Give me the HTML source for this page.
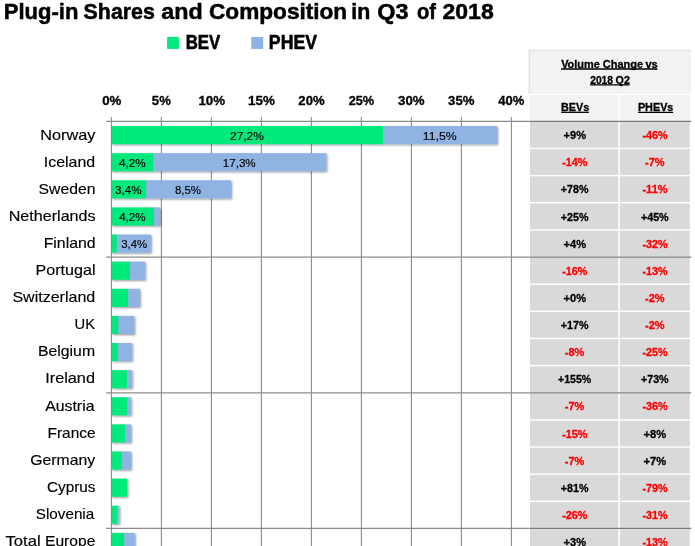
<!DOCTYPE html>
<html lang="en">
<head>
<meta charset="utf-8">
<title>Plug-in Shares and Composition in Q3 of 2018</title>
<style>
html,body{margin:0;padding:0;background:#fff;}
body{width:695px;height:546px;overflow:hidden;font-family:"Liberation Sans",Arial,sans-serif;}
svg{display:block;}
text{font-family:"Liberation Sans",Arial,sans-serif;fill:#000;stroke:#000;stroke-width:0.3px;}
.b{font-weight:bold;}
.r{fill:#ff0000;stroke:#ff0000;}
</style>
</head>
<body>
<svg width="695" height="546" viewBox="0 0 695 546">
<defs>
<filter id="sh" x="-5%" y="-20%" width="110%" height="150%">
<feGaussianBlur in="SourceAlpha" stdDeviation="0.9"/>
<feOffset dx="0.6" dy="1.1" result="o"/>
<feComponentTransfer><feFuncA type="linear" slope="0.45"/></feComponentTransfer>
<feMerge><feMergeNode/><feMergeNode in="SourceGraphic"/></feMerge>
</filter>
</defs>
<rect width="695" height="546" fill="#ffffff"/>

<rect x="167.1" y="36.9" width="11.8" height="12" fill="#00e97d"/>
<rect x="251.3" y="37" width="11.9" height="11.95" fill="#8fb3e3"/>
<rect x="528.7" y="49.7" width="162.30" height="44.1" fill="#f2f2f2"/>
<rect x="528.7" y="49.7" width="162.30" height="1" fill="#e0e0e0"/>
<rect x="528.7" y="49.7" width="1" height="44.1" fill="#dcdcdc"/>
<rect x="529.7" y="94.9" width="88.60" height="25.9" fill="#f3f3f3"/>
<rect x="619.9" y="94.9" width="70.30" height="25.9" fill="#f3f3f3"/>
<rect x="530.0" y="122.00" width="88.30" height="25.75" fill="#d9d9d9"/>
<rect x="619.9" y="122.00" width="69.90" height="25.75" fill="#d9d9d9"/>
<rect x="530.0" y="149.14" width="88.30" height="25.75" fill="#d9d9d9"/>
<rect x="619.9" y="149.14" width="69.90" height="25.75" fill="#d9d9d9"/>
<rect x="530.0" y="176.29" width="88.30" height="25.75" fill="#d9d9d9"/>
<rect x="619.9" y="176.29" width="69.90" height="25.75" fill="#d9d9d9"/>
<rect x="530.0" y="203.44" width="88.30" height="25.75" fill="#d9d9d9"/>
<rect x="619.9" y="203.44" width="69.90" height="25.75" fill="#d9d9d9"/>
<rect x="530.0" y="230.58" width="88.30" height="25.75" fill="#d9d9d9"/>
<rect x="619.9" y="230.58" width="69.90" height="25.75" fill="#d9d9d9"/>
<rect x="530.0" y="257.72" width="88.30" height="25.75" fill="#d9d9d9"/>
<rect x="619.9" y="257.72" width="69.90" height="25.75" fill="#d9d9d9"/>
<rect x="530.0" y="284.87" width="88.30" height="25.75" fill="#d9d9d9"/>
<rect x="619.9" y="284.87" width="69.90" height="25.75" fill="#d9d9d9"/>
<rect x="530.0" y="312.01" width="88.30" height="25.75" fill="#d9d9d9"/>
<rect x="619.9" y="312.01" width="69.90" height="25.75" fill="#d9d9d9"/>
<rect x="530.0" y="339.16" width="88.30" height="25.75" fill="#d9d9d9"/>
<rect x="619.9" y="339.16" width="69.90" height="25.75" fill="#d9d9d9"/>
<rect x="530.0" y="366.31" width="88.30" height="25.75" fill="#d9d9d9"/>
<rect x="619.9" y="366.31" width="69.90" height="25.75" fill="#d9d9d9"/>
<rect x="530.0" y="393.45" width="88.30" height="25.75" fill="#d9d9d9"/>
<rect x="619.9" y="393.45" width="69.90" height="25.75" fill="#d9d9d9"/>
<rect x="530.0" y="420.59" width="88.30" height="25.75" fill="#d9d9d9"/>
<rect x="619.9" y="420.59" width="69.90" height="25.75" fill="#d9d9d9"/>
<rect x="530.0" y="447.74" width="88.30" height="25.75" fill="#d9d9d9"/>
<rect x="619.9" y="447.74" width="69.90" height="25.75" fill="#d9d9d9"/>
<rect x="530.0" y="474.88" width="88.30" height="25.75" fill="#d9d9d9"/>
<rect x="619.9" y="474.88" width="69.90" height="25.75" fill="#d9d9d9"/>
<rect x="530.0" y="502.03" width="88.30" height="25.75" fill="#d9d9d9"/>
<rect x="619.9" y="502.03" width="69.90" height="25.75" fill="#d9d9d9"/>
<rect x="530.0" y="529.18" width="88.30" height="25.74" fill="#d9d9d9"/>
<rect x="619.9" y="529.18" width="69.90" height="25.74" fill="#d9d9d9"/>
<g stroke="#8c8c8c" stroke-width="1.1" fill="none">
<line x1="161.40" y1="116.9" x2="161.40" y2="546"/>
<line x1="211.40" y1="116.9" x2="211.40" y2="546"/>
<line x1="261.40" y1="116.9" x2="261.40" y2="546"/>
<line x1="311.40" y1="116.9" x2="311.40" y2="546"/>
<line x1="361.40" y1="116.9" x2="361.40" y2="546"/>
<line x1="411.40" y1="116.9" x2="411.40" y2="546"/>
<line x1="461.40" y1="116.9" x2="461.40" y2="546"/>
<line x1="511.40" y1="116.9" x2="511.40" y2="546"/>
</g>
<g stroke="#8c8c8c" stroke-width="1.2" fill="none">
<line x1="106.2" y1="121.30" x2="529.7" y2="121.30"/>
<line x1="106.2" y1="257.10" x2="529.7" y2="257.10"/>
<line x1="106.2" y1="392.85" x2="529.7" y2="392.85"/>
<line x1="106.2" y1="528.45" x2="529.7" y2="528.45"/>
</g>
<g stroke="#7a7a7a" stroke-width="1.3" fill="none">
<line x1="529.7" y1="121.30" x2="691.2" y2="121.30"/>
<line x1="529.7" y1="257.10" x2="691.2" y2="257.10"/>
<line x1="529.7" y1="392.85" x2="691.2" y2="392.85"/>
<line x1="529.7" y1="528.45" x2="691.2" y2="528.45"/>
</g>
<g filter="url(#sh)">
<rect x="382.40" y="126.05" width="114.50" height="18.1" fill="#8fb3e3"/>
<rect x="111.40" y="126.05" width="271.60" height="18.1" fill="#00e97d"/>
<rect x="152.60" y="153.17" width="173.70" height="18.1" fill="#8fb3e3"/>
<rect x="111.40" y="153.17" width="41.80" height="18.1" fill="#00e97d"/>
<rect x="145.50" y="180.29" width="85.50" height="18.1" fill="#8fb3e3"/>
<rect x="111.40" y="180.29" width="34.70" height="18.1" fill="#00e97d"/>
<rect x="153.40" y="207.41" width="6.60" height="18.1" fill="#8fb3e3"/>
<rect x="111.40" y="207.41" width="42.60" height="18.1" fill="#00e97d"/>
<rect x="116.20" y="234.53" width="34.60" height="18.1" fill="#8fb3e3"/>
<rect x="111.40" y="234.53" width="5.40" height="18.1" fill="#00e97d"/>
<rect x="129.30" y="261.65" width="15.90" height="18.1" fill="#8fb3e3"/>
<rect x="111.40" y="261.65" width="18.50" height="18.1" fill="#00e97d"/>
<rect x="127.50" y="288.77" width="12.30" height="18.1" fill="#8fb3e3"/>
<rect x="111.40" y="288.77" width="16.70" height="18.1" fill="#00e97d"/>
<rect x="117.60" y="315.89" width="16.70" height="18.1" fill="#8fb3e3"/>
<rect x="111.40" y="315.89" width="6.80" height="18.1" fill="#00e97d"/>
<rect x="117.40" y="343.01" width="14.70" height="18.1" fill="#8fb3e3"/>
<rect x="111.40" y="343.01" width="6.60" height="18.1" fill="#00e97d"/>
<rect x="126.30" y="370.13" width="5.80" height="18.1" fill="#8fb3e3"/>
<rect x="111.40" y="370.13" width="15.50" height="18.1" fill="#00e97d"/>
<rect x="126.70" y="397.25" width="4.40" height="18.1" fill="#8fb3e3"/>
<rect x="111.40" y="397.25" width="15.90" height="18.1" fill="#00e97d"/>
<rect x="124.40" y="424.37" width="6.50" height="18.1" fill="#8fb3e3"/>
<rect x="111.40" y="424.37" width="13.60" height="18.1" fill="#00e97d"/>
<rect x="121.00" y="451.49" width="9.90" height="18.1" fill="#8fb3e3"/>
<rect x="111.40" y="451.49" width="10.20" height="18.1" fill="#00e97d"/>
<rect x="111.40" y="478.61" width="15.90" height="18.1" fill="#00e97d"/>
<rect x="116.50" y="505.73" width="2.70" height="18.1" fill="#8fb3e3"/>
<rect x="111.40" y="505.73" width="5.70" height="18.1" fill="#00e97d"/>
<rect x="123.40" y="532.85" width="11.30" height="18.1" fill="#8fb3e3"/>
<rect x="111.40" y="532.85" width="12.60" height="18.1" fill="#00e97d"/>
</g>
<line x1="111.40" y1="116.9" x2="111.40" y2="546" stroke="#8c8c8c" stroke-width="1.1"/>
<g stroke="#000" stroke-width="1.3" fill="none">
<line x1="561" y1="69.0" x2="657.4" y2="69.0"/>
<line x1="590.2" y1="84.9" x2="629.6" y2="84.9"/>
<line x1="561.2" y1="112.3" x2="589" y2="112.3"/>
<line x1="638" y1="112.3" x2="673.1" y2="112.3"/>
</g>
<text class="b" style="stroke-width:0.5px" x="3.69" y="18.60" font-size="22.6" textLength="74.72" lengthAdjust="spacingAndGlyphs">Plug-in</text>
<text class="b" style="stroke-width:0.5px" x="83.62" y="18.60" font-size="22.6" textLength="71.22" lengthAdjust="spacingAndGlyphs">Shares</text>
<text class="b" style="stroke-width:0.5px" x="161.36" y="18.60" font-size="22.6" textLength="41.46" lengthAdjust="spacingAndGlyphs">and</text>
<text class="b" style="stroke-width:0.5px" x="209.01" y="18.60" font-size="22.6" textLength="138.19" lengthAdjust="spacingAndGlyphs">Composition</text>
<text class="b" style="stroke-width:0.5px" x="351.33" y="18.60" font-size="22.6" textLength="18.97" lengthAdjust="spacingAndGlyphs">in</text>
<text class="b" style="stroke-width:0.5px" x="377.34" y="18.60" font-size="22.6" textLength="31.24" lengthAdjust="spacingAndGlyphs">Q3</text>
<text class="b" style="stroke-width:0.5px" x="416.98" y="18.60" font-size="22.6" textLength="18.98" lengthAdjust="spacingAndGlyphs">of</text>
<text class="b" style="stroke-width:0.5px" x="442.45" y="18.60" font-size="22.6" textLength="51.27" lengthAdjust="spacingAndGlyphs">2018</text>
<text class="b" style="stroke-width:0.6px" x="185.67" y="48.85" font-size="19.6" textLength="34.53" lengthAdjust="spacingAndGlyphs">BEV</text>
<text class="b" style="stroke-width:0.6px" x="268.86" y="48.85" font-size="19.6" textLength="48.11" lengthAdjust="spacingAndGlyphs">PHEV</text>
<text class="b" x="102.20" y="105.20" font-size="12.5" textLength="19.21" lengthAdjust="spacingAndGlyphs">0%</text>
<text class="b" x="151.86" y="105.20" font-size="12.5" textLength="18.91" lengthAdjust="spacingAndGlyphs">5%</text>
<text class="b" x="198.44" y="105.20" font-size="12.5" textLength="26.68" lengthAdjust="spacingAndGlyphs">10%</text>
<text class="b" x="248.10" y="105.20" font-size="12.5" textLength="26.79" lengthAdjust="spacingAndGlyphs">15%</text>
<text class="b" x="298.33" y="105.20" font-size="12.5" textLength="26.29" lengthAdjust="spacingAndGlyphs">20%</text>
<text class="b" x="348.67" y="105.20" font-size="12.5" textLength="25.49" lengthAdjust="spacingAndGlyphs">25%</text>
<text class="b" x="398.14" y="105.20" font-size="12.5" textLength="26.54" lengthAdjust="spacingAndGlyphs">30%</text>
<text class="b" x="448.13" y="105.20" font-size="12.5" textLength="26.37" lengthAdjust="spacingAndGlyphs">35%</text>
<text class="b" x="498.24" y="105.20" font-size="12.5" textLength="26.06" lengthAdjust="spacingAndGlyphs">40%</text>
<text style="stroke-width:0.15px" x="40.19" y="139.50" font-size="14.5" textLength="55.16" lengthAdjust="spacingAndGlyphs">Norway</text>
<text style="stroke-width:0.15px" x="230.05" y="139.60" font-size="11.3" textLength="33.83" lengthAdjust="spacingAndGlyphs">27,2%</text>
<text style="stroke-width:0.15px" x="422.82" y="139.60" font-size="11.3" textLength="33.87" lengthAdjust="spacingAndGlyphs">11,5%</text>
<text class="b" x="563.51" y="139.20" font-size="11.5" textLength="22.48" lengthAdjust="spacingAndGlyphs">+9%</text>
<text class="b r" x="642.47" y="139.20" font-size="11.5" textLength="25.15" lengthAdjust="spacingAndGlyphs">-46%</text>
<text style="stroke-width:0.15px" x="43.75" y="166.61" font-size="14.5" textLength="51.36" lengthAdjust="spacingAndGlyphs">Iceland</text>
<text style="stroke-width:0.15px" x="118.91" y="166.71" font-size="11.3" textLength="26.70" lengthAdjust="spacingAndGlyphs">4,2%</text>
<text style="stroke-width:0.15px" x="222.76" y="166.71" font-size="11.3" textLength="32.95" lengthAdjust="spacingAndGlyphs">17,3%</text>
<text class="b r" x="562.21" y="166.32" font-size="11.5" textLength="25.16" lengthAdjust="spacingAndGlyphs">-14%</text>
<text class="b r" x="644.99" y="166.32" font-size="11.5" textLength="19.63" lengthAdjust="spacingAndGlyphs">-7%</text>
<text style="stroke-width:0.15px" x="38.59" y="193.72" font-size="14.5" textLength="56.85" lengthAdjust="spacingAndGlyphs">Sweden</text>
<text style="stroke-width:0.15px" x="115.10" y="193.82" font-size="11.3" textLength="26.56" lengthAdjust="spacingAndGlyphs">3,4%</text>
<text style="stroke-width:0.15px" x="174.91" y="193.82" font-size="11.3" textLength="26.11" lengthAdjust="spacingAndGlyphs">8,5%</text>
<text class="b" x="560.87" y="193.44" font-size="11.5" textLength="27.64" lengthAdjust="spacingAndGlyphs">+78%</text>
<text class="b r" x="642.42" y="193.44" font-size="11.5" textLength="25.21" lengthAdjust="spacingAndGlyphs">-11%</text>
<text style="stroke-width:0.15px" x="8.73" y="220.83" font-size="14.5" textLength="86.85" lengthAdjust="spacingAndGlyphs">Netherlands</text>
<text style="stroke-width:0.15px" x="119.17" y="220.93" font-size="11.3" textLength="26.29" lengthAdjust="spacingAndGlyphs">4,2%</text>
<text class="b" x="560.87" y="220.56" font-size="11.5" textLength="27.64" lengthAdjust="spacingAndGlyphs">+25%</text>
<text class="b" x="640.90" y="220.56" font-size="11.5" textLength="27.79" lengthAdjust="spacingAndGlyphs">+45%</text>
<text style="stroke-width:0.15px" x="43.66" y="247.94" font-size="14.5" textLength="51.88" lengthAdjust="spacingAndGlyphs">Finland</text>
<text style="stroke-width:0.15px" x="121.25" y="248.04" font-size="11.3" textLength="26.00" lengthAdjust="spacingAndGlyphs">3,4%</text>
<text class="b" x="563.51" y="247.68" font-size="11.5" textLength="22.48" lengthAdjust="spacingAndGlyphs">+4%</text>
<text class="b r" x="642.47" y="247.68" font-size="11.5" textLength="25.15" lengthAdjust="spacingAndGlyphs">-32%</text>
<text style="stroke-width:0.15px" x="35.55" y="275.05" font-size="14.5" textLength="59.93" lengthAdjust="spacingAndGlyphs">Portugal</text>
<text class="b r" x="562.21" y="274.80" font-size="11.5" textLength="25.16" lengthAdjust="spacingAndGlyphs">-16%</text>
<text class="b r" x="642.47" y="274.80" font-size="11.5" textLength="25.15" lengthAdjust="spacingAndGlyphs">-13%</text>
<text style="stroke-width:0.15px" x="12.43" y="302.16" font-size="14.5" textLength="82.83" lengthAdjust="spacingAndGlyphs">Switzerland</text>
<text class="b" x="563.51" y="301.92" font-size="11.5" textLength="22.48" lengthAdjust="spacingAndGlyphs">+0%</text>
<text class="b r" x="644.99" y="301.92" font-size="11.5" textLength="19.63" lengthAdjust="spacingAndGlyphs">-2%</text>
<text style="stroke-width:0.15px" x="74.59" y="329.27" font-size="14.5" textLength="20.46" lengthAdjust="spacingAndGlyphs">UK</text>
<text class="b" x="560.87" y="329.04" font-size="11.5" textLength="27.64" lengthAdjust="spacingAndGlyphs">+17%</text>
<text class="b r" x="644.99" y="329.04" font-size="11.5" textLength="19.63" lengthAdjust="spacingAndGlyphs">-2%</text>
<text style="stroke-width:0.15px" x="38.04" y="356.38" font-size="14.5" textLength="57.02" lengthAdjust="spacingAndGlyphs">Belgium</text>
<text class="b r" x="564.77" y="356.16" font-size="11.5" textLength="19.59" lengthAdjust="spacingAndGlyphs">-8%</text>
<text class="b r" x="642.47" y="356.16" font-size="11.5" textLength="25.15" lengthAdjust="spacingAndGlyphs">-25%</text>
<text style="stroke-width:0.15px" x="45.21" y="383.49" font-size="14.5" textLength="49.74" lengthAdjust="spacingAndGlyphs">Ireland</text>
<text class="b" x="558.00" y="383.28" font-size="11.5" textLength="33.23" lengthAdjust="spacingAndGlyphs">+155%</text>
<text class="b" x="640.90" y="383.28" font-size="11.5" textLength="27.79" lengthAdjust="spacingAndGlyphs">+73%</text>
<text style="stroke-width:0.15px" x="45.15" y="410.60" font-size="14.5" textLength="49.34" lengthAdjust="spacingAndGlyphs">Austria</text>
<text class="b r" x="564.77" y="410.40" font-size="11.5" textLength="19.59" lengthAdjust="spacingAndGlyphs">-7%</text>
<text class="b r" x="642.47" y="410.40" font-size="11.5" textLength="25.15" lengthAdjust="spacingAndGlyphs">-36%</text>
<text style="stroke-width:0.15px" x="47.50" y="437.71" font-size="14.5" textLength="48.17" lengthAdjust="spacingAndGlyphs">France</text>
<text class="b r" x="562.21" y="437.52" font-size="11.5" textLength="25.16" lengthAdjust="spacingAndGlyphs">-15%</text>
<text class="b" x="643.57" y="437.52" font-size="11.5" textLength="22.66" lengthAdjust="spacingAndGlyphs">+8%</text>
<text style="stroke-width:0.15px" x="30.29" y="464.82" font-size="14.5" textLength="64.91" lengthAdjust="spacingAndGlyphs">Germany</text>
<text class="b r" x="564.77" y="464.64" font-size="11.5" textLength="19.59" lengthAdjust="spacingAndGlyphs">-7%</text>
<text class="b" x="643.57" y="464.64" font-size="11.5" textLength="22.66" lengthAdjust="spacingAndGlyphs">+7%</text>
<text style="stroke-width:0.15px" x="47.00" y="491.93" font-size="14.5" textLength="48.54" lengthAdjust="spacingAndGlyphs">Cyprus</text>
<text class="b" x="560.87" y="491.76" font-size="11.5" textLength="27.64" lengthAdjust="spacingAndGlyphs">+81%</text>
<text class="b r" x="642.47" y="491.76" font-size="11.5" textLength="25.15" lengthAdjust="spacingAndGlyphs">-79%</text>
<text style="stroke-width:0.15px" x="35.83" y="519.04" font-size="14.5" textLength="58.37" lengthAdjust="spacingAndGlyphs">Slovenia</text>
<text class="b r" x="562.21" y="518.88" font-size="11.5" textLength="25.16" lengthAdjust="spacingAndGlyphs">-26%</text>
<text class="b r" x="642.47" y="518.88" font-size="11.5" textLength="25.15" lengthAdjust="spacingAndGlyphs">-31%</text>
<text style="stroke-width:0.15px" x="5.51" y="546.15" font-size="14.5" textLength="35.20" lengthAdjust="spacingAndGlyphs">Total</text>
<text style="stroke-width:0.15px" x="45.02" y="546.15" font-size="14.5" textLength="50.32" lengthAdjust="spacingAndGlyphs">Europe</text>
<text class="b" x="563.51" y="546.00" font-size="11.5" textLength="22.48" lengthAdjust="spacingAndGlyphs">+3%</text>
<text class="b r" x="642.47" y="546.00" font-size="11.5" textLength="25.15" lengthAdjust="spacingAndGlyphs">-13%</text>
<text class="b" x="561.14" y="67.80" font-size="11.0" textLength="38.73" lengthAdjust="spacingAndGlyphs">Volume</text>
<text class="b" x="602.77" y="67.80" font-size="11.0" textLength="40.28" lengthAdjust="spacingAndGlyphs">Change</text>
<text class="b" x="645.41" y="67.80" font-size="11.0" textLength="12.32" lengthAdjust="spacingAndGlyphs">vs</text>
<text class="b" x="590.21" y="83.70" font-size="11.0" textLength="22.84" lengthAdjust="spacingAndGlyphs">2018</text>
<text class="b" x="615.60" y="83.70" font-size="11.0" textLength="14.25" lengthAdjust="spacingAndGlyphs">Q2</text>
<text class="b" x="560.91" y="111.20" font-size="11.0" textLength="28.25" lengthAdjust="spacingAndGlyphs">BEVs</text>
<text class="b" x="637.92" y="111.20" font-size="11.0" textLength="35.48" lengthAdjust="spacingAndGlyphs">PHEVs</text>
</svg>
</body>
</html>
